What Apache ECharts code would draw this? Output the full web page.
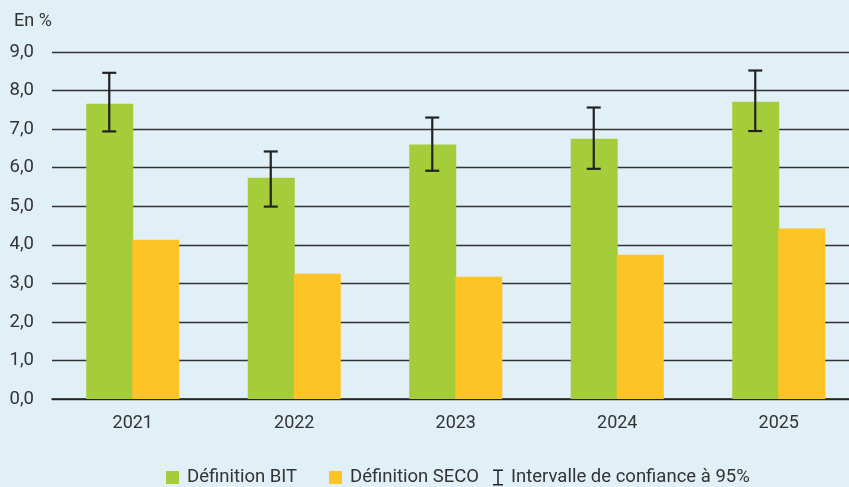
<!DOCTYPE html>
<html>
<head>
<meta charset="utf-8">
<script src="https://cdn.jsdelivr.net/npm/echarts@6/dist/echarts.min.js"></script>
<style>
html,body{margin:0;padding:0;background:#e1eff7;}
#c{width:849px;height:487px;}
</style>
</head>
<body>
<div id="c"></div>
<script>
const categories = ['2021', '2022', '2023', '2024', '2025'];
const bitValues = [7.66, 5.74, 6.60, 6.75, 7.71];
const secoValues = [4.13, 3.25, 3.17, 3.74, 4.42];
const ciLow = [6.94, 4.99, 5.92, 5.97, 6.95];
const ciHigh = [8.46, 6.42, 7.30, 7.56, 8.52];
const yTicks = [0, 1, 2, 3, 4, 5, 6, 7, 8, 9];
const seriesNames = ['Définition BIT', 'Définition SECO', 'Intervalle de confiance à 95%'];

const FONT = '"Roboto", sans-serif';
const BAR_W = 47;
const errData = categories.map((c, i) => [i, ciLow[i], ciHigh[i]]);
const legendLefts = [161, 324, 488];
const legendIcons = ['rect', 'rect', 'path://M0,0H10V1.5H5.75V14.5H10V16H0V14.5H4.25V1.5H0Z'];

const chart = echarts.init(document.getElementById('c'), null, {renderer: 'canvas'});
chart.setOption({
  backgroundColor: '#e1eff7',
  animation: false,
  textStyle: {fontFamily: FONT},
  title: {
    text: 'En %', left: 9, top: 7,
    textStyle: {fontFamily: FONT, fontSize: 18, fontWeight: 'normal', color: '#333'}
  },
  grid: {left: 52, width: 807.5, top: 52, bottom: 88, outerBoundsMode: 'none', containLabel: false},
  legend: seriesNames.map((n, k) => ({
    bottom: -5, left: legendLefts[k],
    itemWidth: k === 2 ? 10 : 13, itemHeight: k === 2 ? 16 : 13,
    textStyle: {fontFamily: FONT, fontSize: 18.5, color: '#333', padding: [0, 0, 0, 3]},
    data: [{name: n, icon: legendIcons[k]}]
  })),
  xAxis: {
    type: 'category', data: categories,
    axisLine: {lineStyle: {color: '#222', width: 1.5}},
    axisTick: {show: false},
    axisLabel: {fontFamily: FONT, fontSize: 18, color: '#333', margin: 15}
  },
  yAxis: {
    type: 'value', min: 0, max: 9, interval: 1,
    axisLine: {show: false}, axisTick: {show: false},
    splitLine: {lineStyle: {color: '#333', width: 1.3}},
    axisLabel: {
      fontFamily: FONT, fontSize: 18.5, color: '#333', margin: 18,
      formatter: v => yTicks.includes(v) ? v.toFixed(1).replace('.', ',') : ''
    }
  },
  series: [
    {name: seriesNames[0], type: 'bar', data: bitValues, barWidth: BAR_W, barGap: '-2%',
     itemStyle: {color: '#a5cd39'}},
    {name: seriesNames[1], type: 'bar', data: secoValues, barWidth: BAR_W,
     itemStyle: {color: '#fec425'}},
    {name: seriesNames[2], type: 'custom', data: errData, z: 10,
     itemStyle: {color: '#222'},
     renderItem: function (params, api) {
       const i = api.value(0);
       const lo = api.coord([i, api.value(1)]);
       const hi = api.coord([i, api.value(2)]);
       const x = lo[0] - BAR_W / 2;
       const cap = 7;
       const st = {stroke: '#222', lineWidth: 2.2};
       return {type: 'group', children: [
         {type: 'line', shape: {x1: x, y1: lo[1], x2: x, y2: hi[1]}, style: st},
         {type: 'line', shape: {x1: x - cap, y1: lo[1], x2: x + cap, y2: lo[1]}, style: st},
         {type: 'line', shape: {x1: x - cap, y1: hi[1], x2: x + cap, y2: hi[1]}, style: st}
       ]};
     }}
  ]
});
</script>
</body>
</html>
